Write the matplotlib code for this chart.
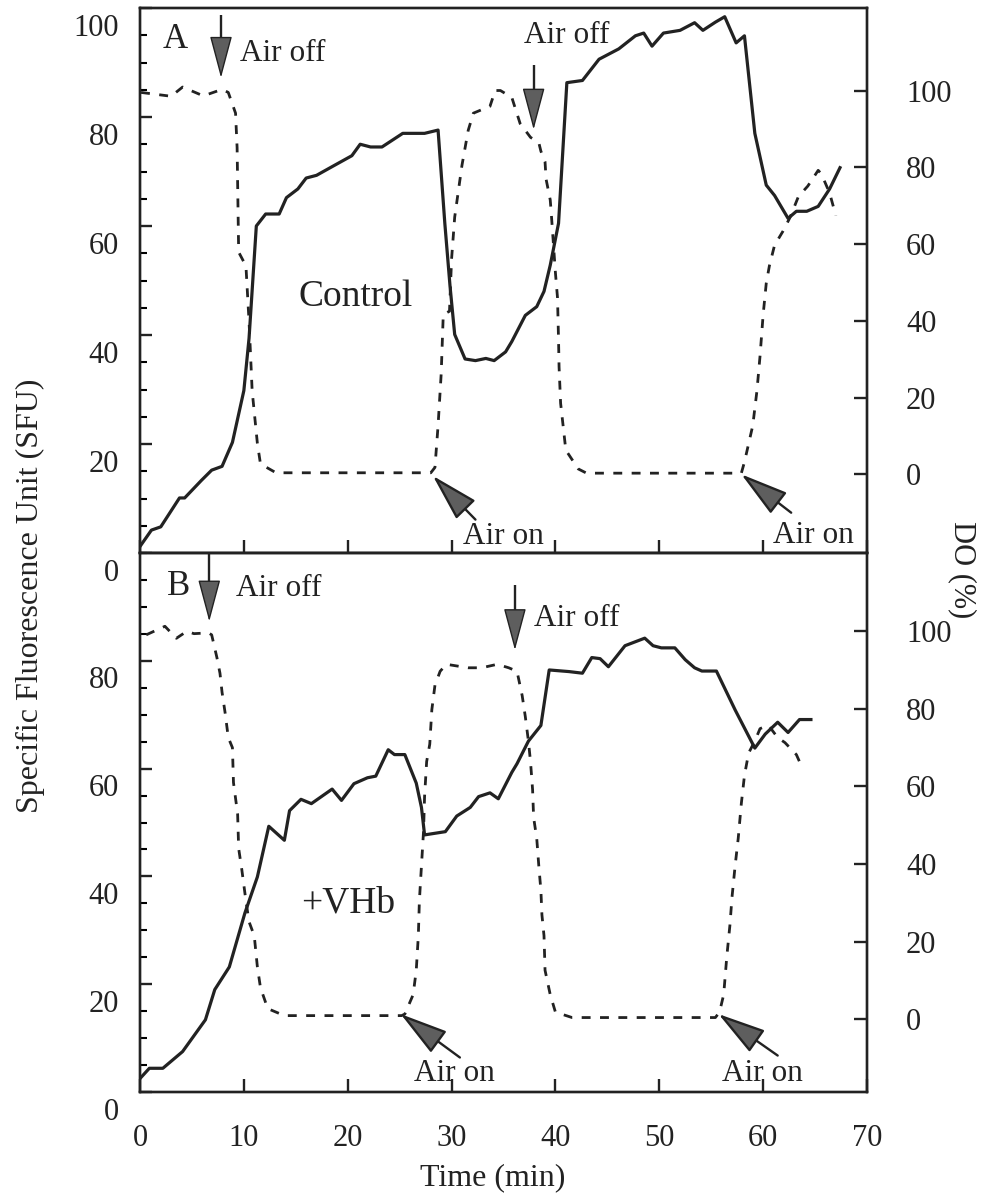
import matplotlib
matplotlib.use('Agg')
import matplotlib.pyplot as plt
from matplotlib.ticker import MultipleLocator
from matplotlib.transforms import ScaledTranslation

plt.rcParams['font.family'] = ['Liberation Serif', 'DejaVu Serif']

INK = '#222222'
HEAD = '#5e5e5e'

# ---- panel A (control) ----
a_sfu_t = [0, 1.1, 2.0, 3.8, 4.3, 5.9, 6.9, 7.9, 8.9, 10.0, 10.5, 11.2, 12.1, 13.4, 14.1,
           15.2, 16.0, 17.0, 18.6, 20.4, 21.2, 22.2, 23.3, 25.3, 27.4, 28.7, 29.35, 29.85,
           30.3, 31.3, 32.3, 33.3, 34.1, 35.2, 35.8, 37.1, 38.2, 38.9, 39.5, 40.3, 41.1,
           42.6, 44.2, 46.1, 47.7, 48.5, 49.3, 50.4, 52.0, 53.4, 54.2, 55.4, 56.3, 57.4,
           58.2, 59.2, 60.3, 61.1, 62.4, 63.2, 64.2, 65.3, 66.4, 67.4]
a_sfu = [1.2, 4.2, 4.8, 10.1, 10.1, 13.3, 15.2, 15.9, 20.3, 29.8, 39.4, 60.0, 62.2, 62.2, 65.2,
         66.8, 68.8, 69.3, 71.0, 72.9, 75.0, 74.5, 74.5, 77.0, 77.0, 77.6, 60.5, 49.0,
         40.1, 35.6, 35.3, 35.7, 35.3, 36.9, 38.8, 43.6, 45.2, 48.0, 52.8, 60.5, 86.3,
         86.7, 90.6, 92.5, 94.9, 95.4, 93.0, 95.4, 95.9, 97.3, 95.9, 97.4, 98.4, 93.6,
         94.9, 77.0, 67.5, 65.6, 61.4, 62.7, 62.7, 63.6, 66.8, 70.7]

a_do_t = [0.1, 3.0, 4.1, 6.1, 7.9, 8.5, 9.2, 9.35, 9.5, 10.2, 10.5, 10.8, 11.3, 11.6, 13.1,
          28.0, 28.4, 28.7, 29.0, 29.2, 29.8, 30.0, 30.3, 31.0, 31.6, 32.1, 33.7, 34.2,
          34.7, 35.8, 36.6, 37.6, 38.4, 38.6, 39.0, 39.1, 39.5, 39.6, 40.0, 40.2, 40.3,
          40.35, 40.5, 41.0, 42.2, 43.0, 57.9, 58.2, 59.0, 59.4, 59.7, 60.0, 60.3, 60.6,
          61.1, 61.9, 62.6, 63.4, 64.3, 65.3, 65.6, 66.4, 67.0]
a_do = [99.5, 98.5, 100.9, 98.6, 100.3, 99.5, 94.1, 85.1, 57.9, 54.3, 39.8, 21.7, 8.1, 2.7, 0.4,
        0.4, 1.8, 12.7, 26.2, 41.6, 42.5, 56.1, 67.0, 80.5, 89.6, 94.1, 95.9, 100.0,
        100.0, 98.2, 91.4, 87.8, 86.4, 84.2, 81.4, 76.9, 71.5, 68.0, 52.5, 46.0, 35.0,
        28.0, 18.5, 6.3, 1.4, 0.3, 0.3, 3.2, 12.7, 21.7, 30.8, 41.6, 49.8, 54.3,
        59.7, 63.3, 67.0, 72.4, 75.1, 79.2, 78.3, 73.3, 67.4]

# ---- panel B (+VHb) ----
b_sfu_t = [0, 0.9, 2.2, 4.1, 6.3, 7.2, 8.6, 10.1, 11.3, 12.4, 13.9, 14.4, 15.5, 16.5, 18.5,
           19.4, 20.6, 21.9, 22.7, 23.9, 24.5, 25.5, 26.6, 27.1, 27.4, 29.4, 30.5, 31.8,
           32.6, 33.7, 34.5, 35.8, 36.3, 37.4, 38.6, 39.4, 41.3, 42.6, 43.5, 44.3, 45.1,
           46.7, 48.6, 49.4, 50.2, 51.5, 52.5, 53.4, 54.1, 55.5, 57.3, 59.2, 60.2, 61.4,
           62.4, 63.5, 64.6]
b_sfu = [2.5, 4.4, 4.4, 7.5, 13.4, 19.0, 23.2, 33.2, 39.9, 49.3, 46.7, 52.2, 54.3, 53.5, 56.2,
         54.1, 57.2, 58.3, 58.6, 63.5, 62.6, 62.6, 57.3, 52.8, 47.7, 48.3, 51.2, 52.8,
         54.8, 55.5, 54.4, 59.3, 60.9, 65.1, 68.0, 78.3, 78.0, 77.7, 80.6, 80.4, 78.9,
         82.8, 84.2, 82.8, 82.4, 82.4, 80.2, 78.7, 78.1, 78.1, 70.9, 63.8, 66.4, 68.6,
         66.7, 69.1, 69.1]

b_do_t = [0.6, 2.4, 3.5, 4.5, 5.2, 6.6, 6.9, 7.4, 7.7, 7.9, 8.2, 8.5, 8.9, 9.0, 9.4, 9.5, 9.8,
          10.2, 10.5, 11.0, 11.3, 11.6, 12.3, 13.9, 25.2, 25.5, 26.3, 26.6, 26.8, 26.9,
          27.1, 27.3, 27.4, 27.6, 27.9, 28.1, 28.4, 28.9, 29.5, 31.6, 32.9, 34.4, 35.5,
          36.3, 36.8, 37.1, 37.4, 37.6, 37.8, 37.9, 38.2, 38.4, 38.6, 38.7, 38.9, 39.0,
          39.5, 40.0, 41.6, 55.4, 55.8, 56.2, 56.5, 56.8, 57.0, 57.3, 57.6, 57.9, 58.2,
          58.6, 59.2, 59.7, 60.5, 61.4, 62.1, 63.2, 63.5, 64.0]
b_do = [99.1, 101.3, 98.2, 100.0, 99.4, 99.6, 99.1, 93.3, 89.2, 84.3, 78.9, 72.6, 70.0, 61.0,
        52.9, 44.0, 38.6, 30.5, 25.1, 21.5, 13.5, 8.1, 2.7, 0.9, 0.9, 1.3, 6.3, 12.6, 21.5,
        30.5, 39.5, 48.4, 57.4, 66.4, 70.9, 79.8, 86.1, 89.7, 91.5, 90.6, 90.6, 91.5, 90.6,
        89.7, 83.4, 78.0, 71.7, 66.4, 59.2, 52.0, 46.6, 39.5, 33.2, 26.9, 21.5, 12.6,
        6.3, 1.8, 0.4, 0.4, 1.8, 6.3, 16.1, 24.2, 31.4, 39.5, 46.6, 55.6, 62.8,
        68.6, 71.7, 74.9, 75.8, 72.6, 71.3, 68.2, 66.4, 66.4]

x_ticks = [0, 10, 20, 30, 40, 50, 60, 70]
sfu_ticks_a = [0, 20, 40, 60, 80, 100]
sfu_ticks_b = [0, 20, 40, 60, 80]
do_ticks = [0, 20, 40, 60, 80, 100]

fig = plt.figure(figsize=(10.01, 11.97), dpi=100)
W, H = 1001.0, 1197.0
L, R = 140, 867
axA = fig.add_axes([L / W, 1 - 553 / H, (R - L) / W, 545 / H])
axB = fig.add_axes([L / W, 1 - 1092 / H, (R - L) / W, 539 / H])


def style(ax, twin, yticks, do_lim, show_x):
    ax.set_xlim(0, 70)
    ax.set_ylim(0, 100)
    twin.set_ylim(*do_lim)
    ax.set_xticks(x_ticks)
    ax.set_yticks(yticks)
    ax.yaxis.set_minor_locator(MultipleLocator(5))
    twin.set_yticks(do_ticks)
    for a in (ax, twin):
        for s in a.spines.values():
            s.set_linewidth(1.7)
            s.set_color(INK)
    ax.tick_params(axis='y', which='major', direction='in', length=8.5, width=1.7,
                   labelsize=22, pad=15, colors=INK, right=False)
    ax.tick_params(axis='y', which='minor', direction='in', length=5, width=1.5, right=False)
    ax.tick_params(axis='x', which='major', direction='in', length=9.5, width=1.7,
                   labelsize=22, pad=23, colors=INK, top=False, labelbottom=show_x)
    twin.tick_params(axis='y', direction='in', length=9.5, width=1.7, labelsize=22,
                     pad=28, colors=INK)
    # labels sit a bit below their ticks in the original
    off = ScaledTranslation(0, -12 / 72, fig.dpi_scale_trans)
    for lab in ax.get_yticklabels():
        lab.set_transform(lab.get_transform() + off)


def air_off(ax, x, top, base, tip, tx, ty):
    ax.plot([x, x], [top, base], color=INK, lw=1.7, solid_capstyle='butt')
    ax.annotate('', xy=(x, tip), xytext=(x, base),
                arrowprops=dict(arrowstyle='-|>,head_length=1.35,head_width=0.36',
                                mutation_scale=20, fc=HEAD, ec=INK, lw=1.0,
                                shrinkA=0, shrinkB=0))
    ax.text(tx, ty, 'Air off', fontsize=22.5, va='center', ha='left', color=INK)


def air_on(twin, tip, tail, tx, ty):
    twin.annotate('', xy=tip, xytext=tail,
                  arrowprops=dict(arrowstyle='-|>,head_length=1.5,head_width=0.42',
                                  mutation_scale=20, fc=HEAD, ec=INK, lw=1.7,
                                  shrinkA=0, shrinkB=0))
    twin.text(tx, ty, 'Air on', fontsize=22.5, va='center', ha='center', color=INK)


dash = (0, (3.2, 3.4))

# panel A
twA = axA.twinx()
axA.plot(a_sfu_t, a_sfu, color=INK, lw=2.3)
twA.plot(a_do_t, a_do, color=INK, lw=2.0, linestyle=dash)
style(axA, twA, sfu_ticks_a, (-20.5, 121.5), False)
axA.text(3.4, 94.3, 'A', fontsize=25, ha='center', va='center', color=INK)
axA.text(20.8, 47, 'Control', fontsize=27, ha='center', va='center', color=INK)
air_off(axA, 7.8, 98.7, 93.9, 87.2, 9.6, 91.7)
air_off(axA, 37.9, 89.5, 84.4, 77.7, 37.0, 94.9)
air_on(twA, (28.2, -0.4), (32.3, -11.8), 35.0, -16.3)
air_on(twA, (57.9, 0.0), (62.7, -10.0), 64.8, -16.0)

# panel B
twB = axB.twinx()
axB.plot(b_sfu_t, b_sfu, color=INK, lw=2.3)
twB.plot(b_do_t, b_do, color=INK, lw=2.0, linestyle=dash)
style(axB, twB, sfu_ticks_b, (-18.8, 120.2), True)
axB.text(3.7, 93.8, 'B', fontsize=25, ha='center', va='center', color=INK)
axB.text(20.0, 35.0, '+VHb', fontsize=27, ha='center', va='center', color=INK)
air_off(axB, 6.67, 99.9, 94.1, 87.3, 9.2, 93.5)
air_off(axB, 36.1, 94.0, 89.1, 82.0, 37.9, 87.8)
air_on(twB, (25.1, 1.3), (30.8, -9.9), 30.3, -14.0)
air_on(twB, (55.7, 1.3), (61.4, -9.4), 59.9, -14.0)

fig.text(30 / W, 1 - 596 / H, 'Specific Fluorescence Unit (SFU)', rotation=90,
         fontsize=23, ha='center', va='center', color=INK)
fig.text(962 / W, 1 - 570 / H, 'DO (%)', rotation=270, fontsize=22,
         ha='center', va='center', color=INK)
fig.text(493 / W, 1 - 1178 / H, 'Time (min)', fontsize=23, ha='center', va='center',
         color=INK)

fig.savefig('out.png', dpi=100)
